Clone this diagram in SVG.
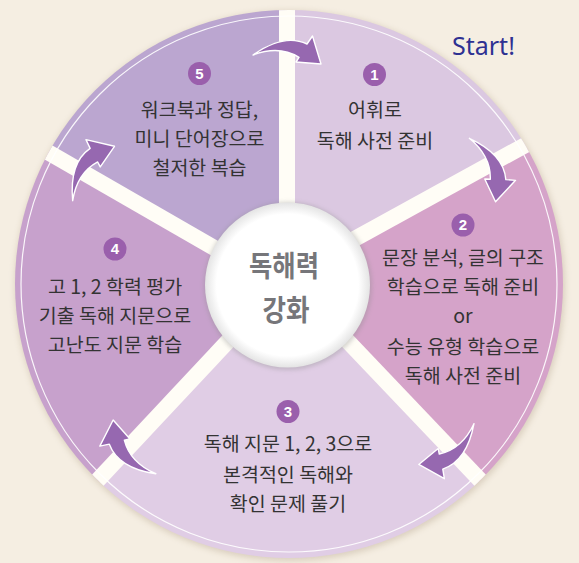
<svg xmlns="http://www.w3.org/2000/svg" width="579" height="563" viewBox="0 0 579 563">
<style>
.t{font-family:"Noto Sans CJK KR","Noto Sans",sans-serif;font-size:19.5px;fill:#333333;text-anchor:middle}
.n{font-family:"Liberation Sans","Noto Sans",sans-serif;font-size:15px;font-weight:bold;fill:#fff;text-anchor:middle}
.b{fill:#9a5fac}
.sep{stroke:#fffdf6;stroke-width:16;fill:none}
.arr{fill:#9668b0;stroke:#fff;stroke-width:1.4;stroke-linejoin:round}
.c{font-family:"Noto Sans CJK KR",sans-serif;font-size:29px;font-weight:bold;fill:#76767a;text-anchor:middle}
</style>
<defs>
<clipPath id="disk"><circle cx="289" cy="284" r="274"/></clipPath>
<filter id="sh" x="-10%" y="-10%" width="120%" height="120%"><feGaussianBlur stdDeviation="3"/></filter>
<filter id="sh2" x="-20%" y="-20%" width="140%" height="140%"><feGaussianBlur stdDeviation="2"/></filter>
<radialGradient id="cg" cx="0.5" cy="0.5" r="0.5"><stop offset="0.86" stop-color="#ffffff"/><stop offset="1" stop-color="#e4e4e4"/></radialGradient>
<path id="arrow" d="M253,55 Q284,33 307,44 L312.5,36 L321,64 L296,62 L299,57.3 Q279,45 253,55 Z"/>
</defs>
<rect width="579" height="563" fill="#f5eee2"/>
<circle cx="290" cy="286" r="275" fill="#b9a994" opacity="0.45" filter="url(#sh)"/>

<g id="step1">
<path clip-path="url(#disk)" fill="#dbc8e1" d="M289,283 L287,-200 L700,-200 L700,49 Z"/>
<circle class="b" cx="374.5" cy="74.5" r="11.5"/><text class="n" x="374.5" y="79.5">1</text>
<text class="t" x="375" y="117">어휘로</text>
<text class="t" x="375" y="147.5">독해 사전 준비</text>
</g>
<g id="step2">
<path clip-path="url(#disk)" fill="#d5a3c9" d="M289,283 L700,49 L700,711 Z"/>
<circle class="b" cx="463" cy="225" r="11.5"/><text class="n" x="463" y="230">2</text>
<text class="t" x="463" y="265">문장 분석, 글의 구조</text>
<text class="t" x="463" y="294">학습으로 독해 준비</text>
<text class="t" x="463" y="322.5">or</text>
<text class="t" x="463" y="353.5">수능 유형 학습으로</text>
<text class="t" x="463" y="382.5">독해 사전 준비</text>
</g>
<g id="step3">
<path clip-path="url(#disk)" fill="#e0cde5" d="M289,283 L700,711 L-118.5,711 Z"/>
<circle class="b" cx="288" cy="411.5" r="11.5"/><text class="n" x="288" y="416.5">3</text>
<text class="t" x="288" y="451">독해 지문 1, 2, 3으로</text>
<text class="t" x="288" y="481.5">본격적인 독해와</text>
<text class="t" x="288" y="510.5">확인 문제 풀기</text>
</g>
<g id="step4">
<path clip-path="url(#disk)" fill="#c7a1cc" d="M289,283 L-118.5,711 L-150,711 L-150,39 Z"/>
<circle class="b" cx="115" cy="249" r="11.5"/><text class="n" x="115" y="254">4</text>
<text class="t" x="115" y="294">고 1, 2 학력 평가</text>
<text class="t" x="115" y="323">기출 독해 지문으로</text>
<text class="t" x="115" y="352">고난도 지문 학습</text>
</g>
<g id="step5">
<path clip-path="url(#disk)" fill="#bba6d0" d="M289,283 L-150,39 L-150,-200 L287,-200 Z"/>
<circle class="b" cx="199.5" cy="73.5" r="11.5"/><text class="n" x="199.5" y="78.5">5</text>
<text class="t" x="199.5" y="116.5">워크북과 정답,</text>
<text class="t" x="199.5" y="145.5">미니 단어장으로</text>
<text class="t" x="199.5" y="174.5">철저한 복습</text>
</g>

<g id="separators" clip-path="url(#disk)">
<line class="sep" x1="287" y1="283" x2="287" y2="-10"/>
<line class="sep" x1="289" y1="275" x2="600" y2="104"/>
<line class="sep" x1="289" y1="279.5" x2="600" y2="606"/>
<line class="sep" x1="289" y1="276" x2="-20" y2="606"/>
<line class="sep" x1="289" y1="291" x2="-20" y2="113"/>
</g>
<circle cx="289" cy="284" r="268" fill="none" stroke="#ffffff" stroke-width="1.2" opacity="0.9"/>

<g id="center">
<circle cx="288" cy="286" r="84" fill="#8a8a8a" opacity="0.35" filter="url(#sh2)"/>
<circle cx="287.5" cy="285" r="82.5" fill="url(#cg)"/>
<text class="c" x="284" y="277" textLength="70" lengthAdjust="spacingAndGlyphs">독해력</text>
<text class="c" x="286" y="321" textLength="47" lengthAdjust="spacingAndGlyphs">강화</text>
</g>

<text x="452" y="55" font-family="Noto Sans, sans-serif" font-size="25" fill="#2e3192">Start!</text>

<g id="connectors" class="arr">
<use href="#arrow"/>
<use href="#arrow" transform="rotate(60 289 284)"/>
<use href="#arrow" transform="rotate(136 289 284)"/>
<use href="#arrow" transform="rotate(224 289 284)"/>
<use href="#arrow" transform="rotate(300 289 284)"/>
</g>
</svg>
